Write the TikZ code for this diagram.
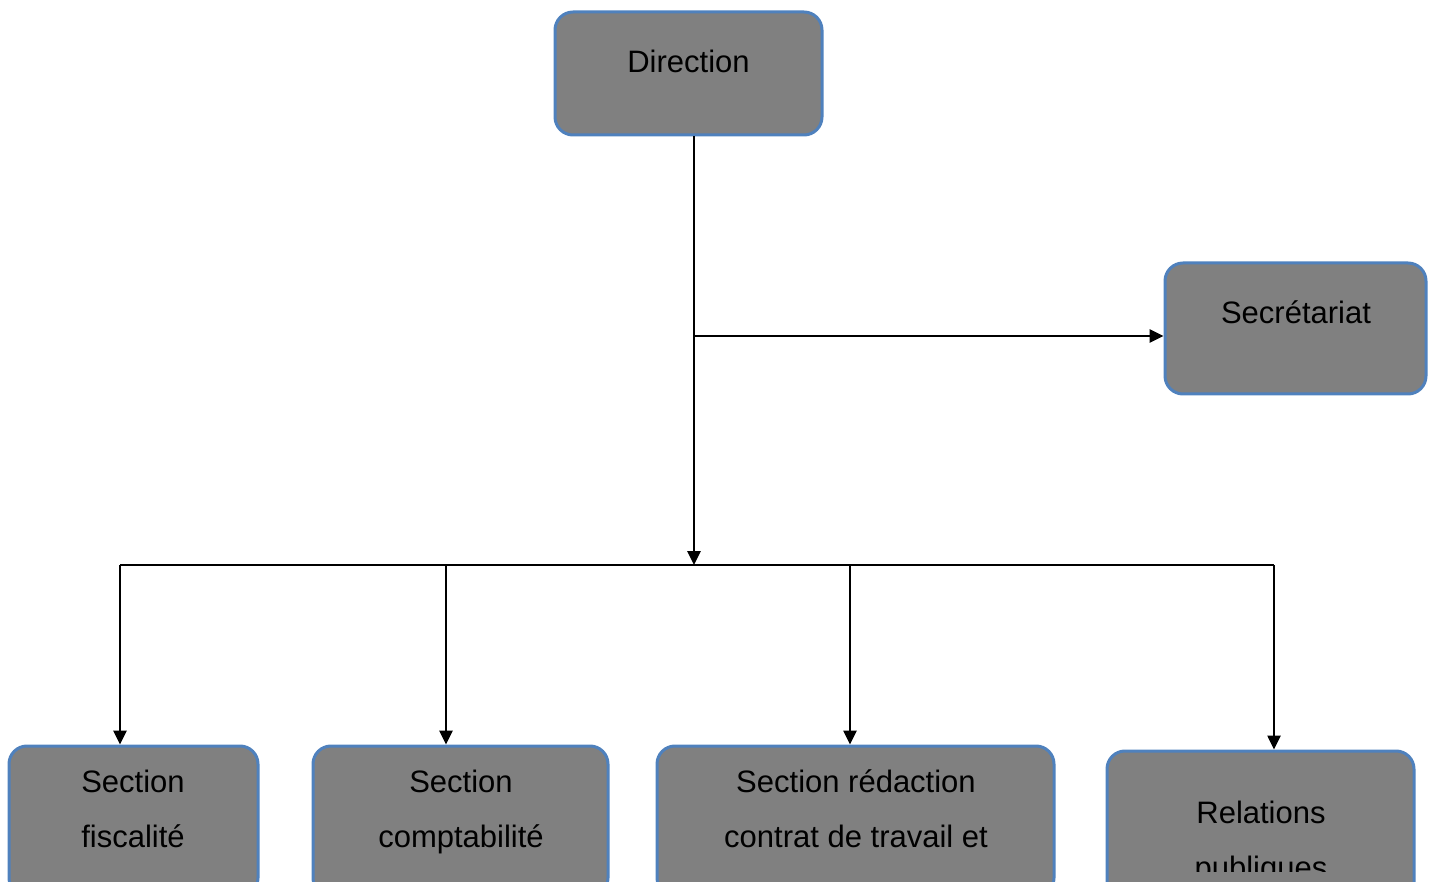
\documentclass[tikz,border=0pt]{standalone}
\usepackage{fontspec}
\setmainfont{Liberation Sans}
\usetikzlibrary{arrows.meta,calc}
\definecolor{boxfill}{HTML}{808080}
\definecolor{boxline}{HTML}{4F81BD}
\newcommand{\lnstrut}{\vphantom{Ég}}
\begin{document}
\begin{tikzpicture}[x=1pt,y=-1pt,
  orgbox/.style={draw=boxline,fill=boxfill,line width=3pt,rounded corners=18pt,inner sep=0pt},
  lbl/.style={font=\fontsize{31}{55}\selectfont,align=center,inner sep=0pt,text=black},
  conn/.style={line width=2.6pt,black},
  arr/.style={conn,-{Triangle[length=14pt,width=13pt]}}]
\clip (0,0) rectangle (1433,882);
% boxes
\node[orgbox,minimum width=267pt,minimum height=123pt] (dir) at (688.5,73.5) {};
\node[orgbox,minimum width=261pt,minimum height=131pt] (sec) at (1295.5,328.5) {};
\node[orgbox,minimum width=249pt,minimum height=150pt] (s1) at (133.5,821) {};
\node[orgbox,minimum width=295pt,minimum height=150pt] (s2) at (460.5,821) {};
\node[orgbox,minimum width=397pt,minimum height=150pt] (s3) at (855.5,821) {};
\node[orgbox,minimum width=307pt,minimum height=150pt] (s4) at (1260.5,826) {};
% texts
\node[lbl] (tdir) at (688.5,62) {\lnstrut Direction};
\node[lbl] (tsec) at (1296,313) {\lnstrut Secrétariat};
\node[lbl] (t1) at (133,809.5) {\lnstrut Section\\fiscalité\lnstrut};
\node[lbl] (t2) at (461,809.5) {\lnstrut Section\\comptabilité\lnstrut};
\node[lbl] (t3) at (856,809.5) {\lnstrut Section rédaction\\contrat de travail et\lnstrut};
\begin{scope}
\clip (1107,751) rectangle (1414,871);
\node[lbl] (t4) at (1261,840.5) {\lnstrut Relations\\publiques\lnstrut};
\end{scope}
% connectors
\coordinate (j) at (694,565);
\coordinate (b1) at (694,336);
\coordinate (L) at (120,565);
\coordinate (R) at (1274,565);
\coordinate (m2) at (446,565);
\coordinate (m3) at (850,565);
\draw[arr] (dir.south -| j) -- (j);
\draw[arr] (b1) -- (sec.west |- b1);
\draw[conn] (L) -- (R);
\draw[arr] (L) -- (s1.north -| L);
\draw[arr] (m2) -- (s2.north -| m2);
\draw[arr] (m3) -- (s3.north -| m3);
\draw[arr] (R) -- (s4.north -| R);
\end{tikzpicture}
\end{document}
